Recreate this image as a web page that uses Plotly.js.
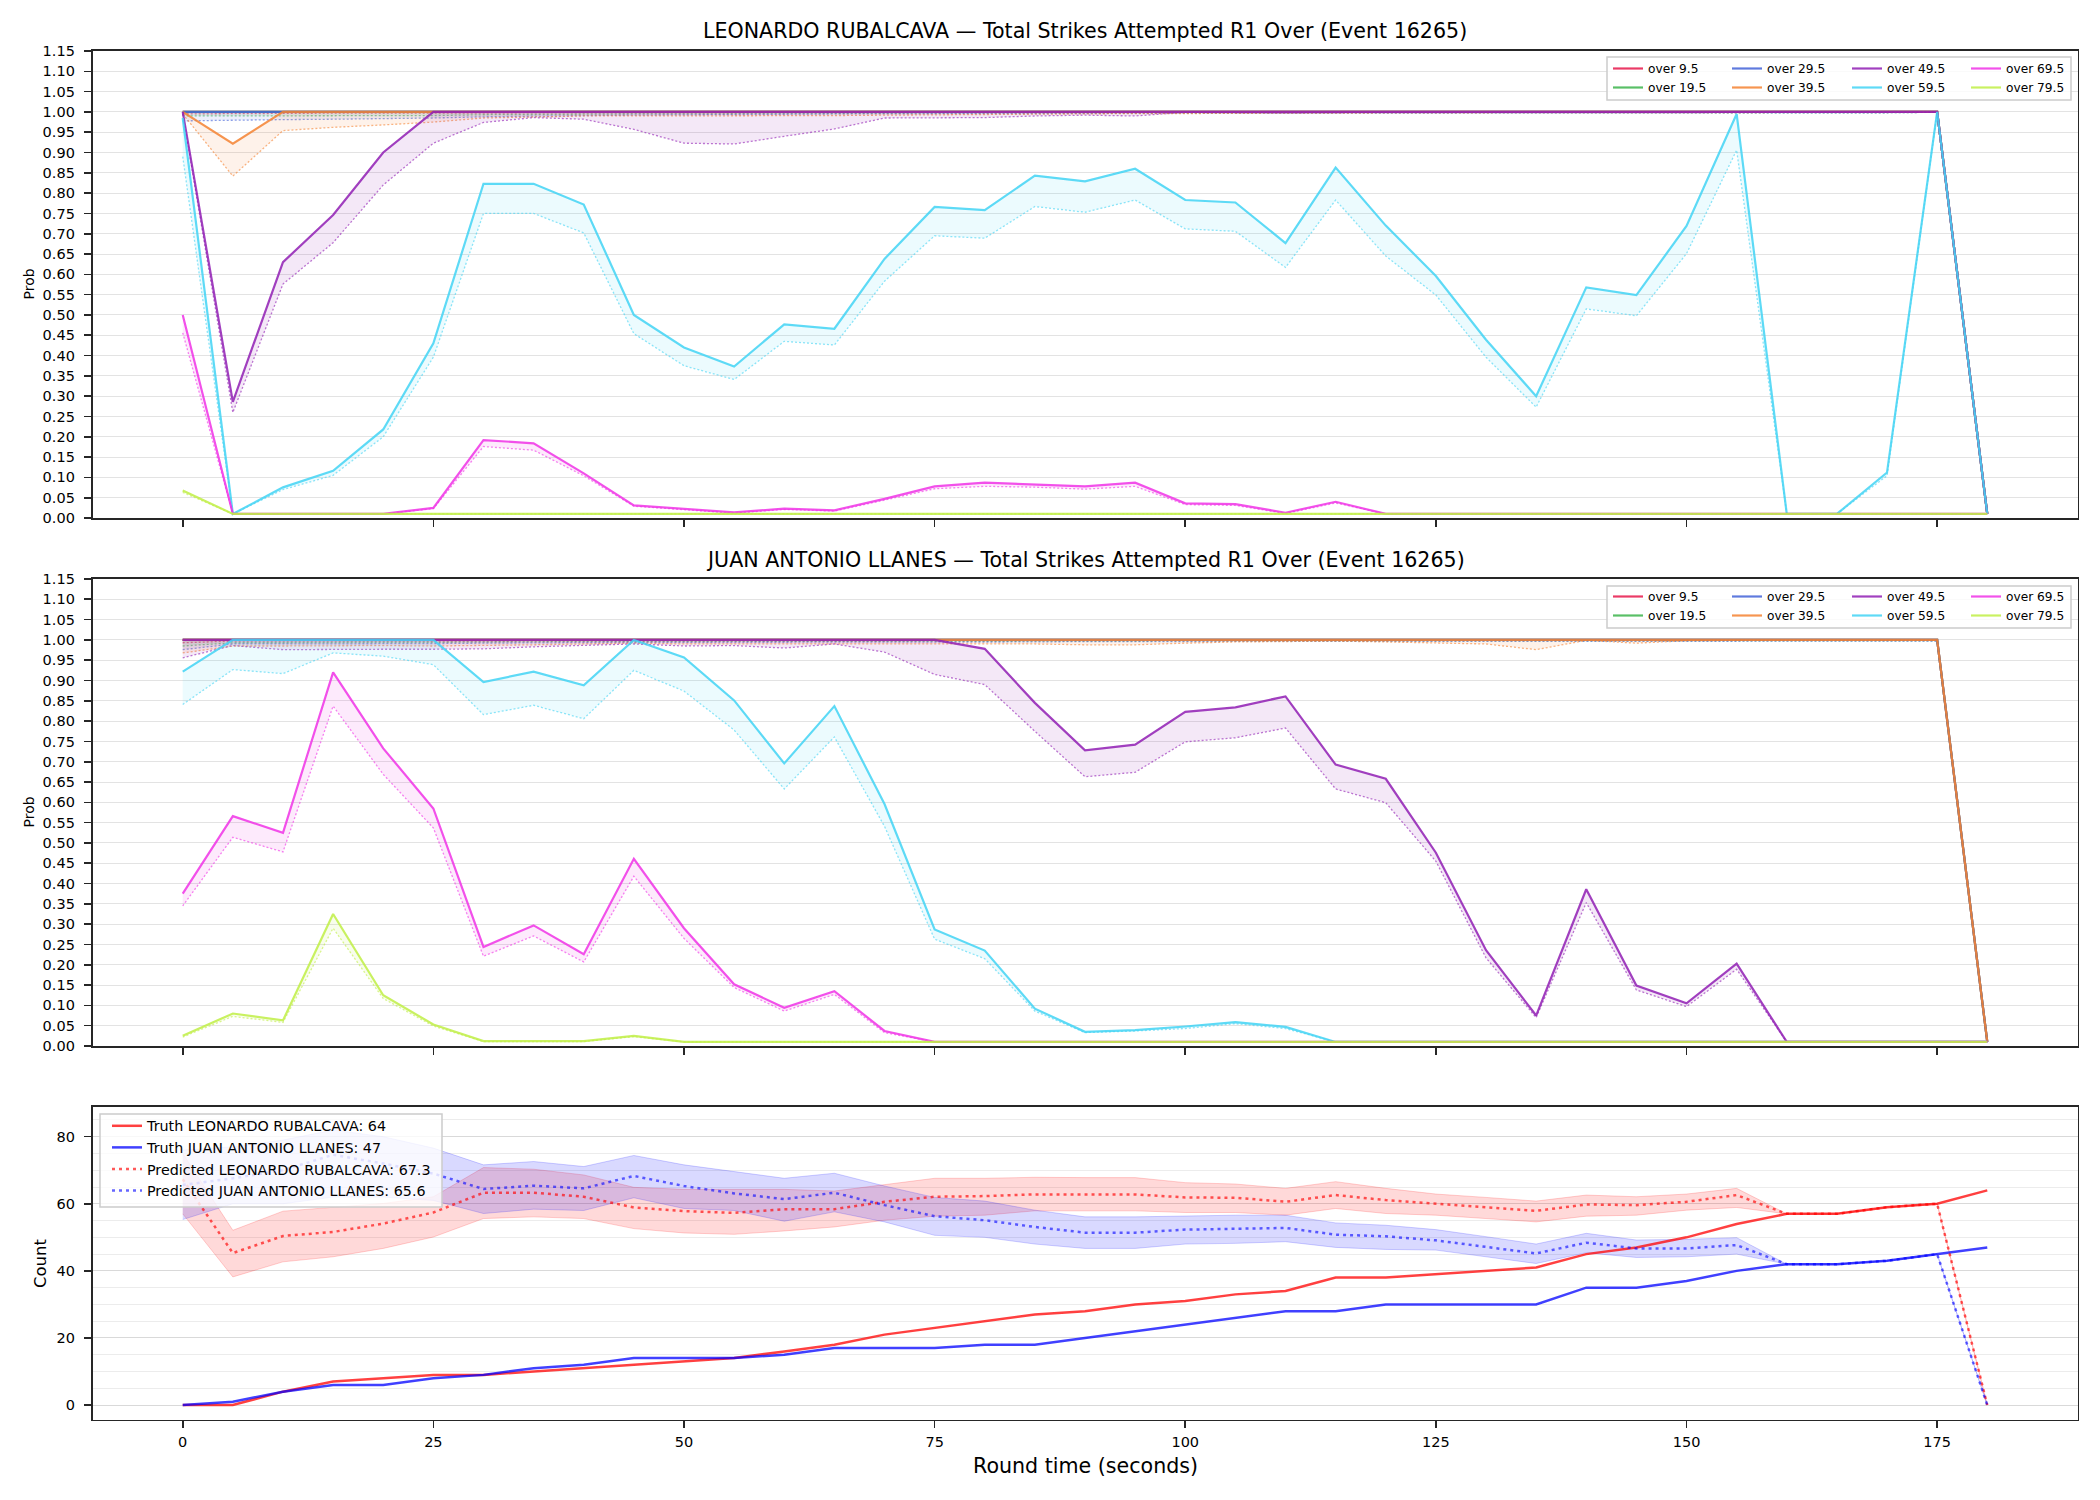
<!DOCTYPE html>
<html>
<head>
<meta charset="utf-8">
<script src="https://cdn.plot.ly/plotly-3.0.1.min.js"></script>
<style>
  html, body { margin: 0; padding: 0; background: #fff; }
  #chart { width: 2100px; height: 1500px; }
</style>
</head>
<body>
<div id="chart"></div>
<script>
// Round time axis (seconds)
const times = [0,5,10,15,20,25, 30,35,40,45,50,55, 60,65,70,75,80,85, 90,95,100,105,110,115, 120,125,130,135,140,145, 150,155,160,165,170,175, 180];
const timeTicks = [0, 25, 50, 75, 100, 125, 150, 175];
const timeTickText = ['0', '25', '50', '75', '100', '125', '150', '175'];

const probTicks = [0,0.05,0.1,0.15,0.2,0.25,0.3,0.35,0.4,0.45,0.5,0.55,0.6,0.65,0.7,0.75,0.8,0.85,0.9,0.95,1,1.05,1.1,1.15];
const probTickText = ['0.00','0.05','0.10','0.15','0.20','0.25','0.30','0.35','0.40','0.45','0.50','0.55','0.60','0.65','0.70','0.75','0.80','0.85','0.90','0.95','1.00','1.05','1.10','1.15'];
const countTicks = [0, 20, 40, 60, 80];

const thresholds = ['over 9.5', 'over 19.5', 'over 29.5', 'over 39.5', 'over 49.5', 'over 59.5', 'over 69.5', 'over 79.5'];

// ---------- LEONARDO RUBALCAVA: upper (solid) and lower (dotted) probabilities ----------
const rubHi_9  = [1,1,1,1,1,1, 1,1,1,1,1,1, 1,1,1,1,1,1, 1,1,1,1,1,1, 1,1,1,1,1,1, 1,1,1,1,1,1, 0.01];
const rubLo_9  = [0.995,0.996,0.996,0.997,0.997,0.997, 0.998,0.998,0.998,0.998,0.998,0.998, 0.999,0.999,0.999,0.999,0.999,0.999, 0.999,0.999,0.999,0.999,0.999,0.999, 0.999,0.999,0.999,0.999,0.999,0.999, 0.999,0.999,0.999,0.999,0.999,0.999, 0.01];
const rubHi_19 = [1,1,1,1,1,1, 1,1,1,1,1,1, 1,1,1,1,1,1, 1,1,1,1,1,1, 1,1,1,1,1,1, 1,1,1,1,1,1, 0.01];
const rubLo_19 = [0.99,0.99,0.99,0.99,0.99,0.991, 0.993,0.994,0.995,0.995,0.995,0.996, 0.996,0.996,0.997,0.997,0.997,0.997, 0.998,0.998,0.998,0.998,0.998,0.998, 0.998,0.998,0.998,0.998,0.998,0.998, 0.998,0.998,0.998,0.998,0.998,0.999, 0.01];
const rubHi_29 = [1,1,1,1,1,1, 1,1,1,1,1,1, 1,1,1,1,1,1, 1,1,1,1,1,1, 1,1,1,1,1,1, 1,1,1,1,1,1, 0.01];
const rubLo_29 = [0.978,0.98,0.981,0.982,0.983,0.985, 0.988,0.99,0.991,0.992,0.993,0.994, 0.994,0.995,0.995,0.996,0.996,0.996, 0.997,0.997,0.997,0.997,0.997,0.997, 0.998,0.998,0.998,0.998,0.998,0.998, 0.998,0.998,0.998,0.998,0.998,0.999, 0.01];
const rubHi_39 = [1,0.922,1,1,1,1, 1,1,1,1,1,1, 1,1,1,1,1,1, 1,1,1,1,1,1, 1,1,1,1,1,1, 1,1,1,1,1,1, 0.01];
const rubLo_39 = [0.995,0.842,0.954,0.962,0.968,0.975, 0.985,0.988,0.99,0.99,0.99,0.99, 0.99,0.991,0.992,0.993,0.994,0.995, 0.995,0.996,0.996,0.997,0.997,0.997, 0.998,0.998,0.998,0.998,0.998,0.998, 0.998,0.998,0.998,0.998,0.998,0.999, 0.01];
const rubHi_49 = [1,0.286,0.63,0.746,0.9,1, 1,1,1,1,1,1, 1,1,1,1,1,1, 1,1,1,1,1,1, 1,1,1,1,1,1, 1,1,1,1,1,1, 0.01];
const rubLo_49 = [0.995,0.26,0.576,0.678,0.82,0.923, 0.974,0.986,0.982,0.957,0.923,0.921, 0.94,0.958,0.985,0.986,0.986,0.99, 0.992,0.99,0.999,0.998,0.997,0.998, 0.998,0.998,0.998,0.998,0.998,0.998, 0.998,0.998,0.998,0.998,0.998,0.999, 0.01];
const rubHi_59 = [0.985,0.01,0.0755,0.116,0.218,0.43, 0.823,0.823,0.772,0.5,0.42,0.373, 0.477,0.466,0.638,0.766,0.758,0.843, 0.829,0.86,0.783,0.777,0.677,0.863, 0.72,0.596,0.439,0.3,0.568,0.549, 0.719,0.995,0.01,0.01,0.112,1, 0.01];
const rubLo_59 = [0.89,0.01,0.07,0.105,0.2,0.396, 0.75,0.75,0.702,0.454,0.375,0.341, 0.435,0.426,0.583,0.695,0.689,0.767, 0.753,0.783,0.712,0.706,0.617,0.783, 0.645,0.549,0.396,0.273,0.515,0.498, 0.651,0.906,0.01,0.01,0.104,0.999, 0.01];
const rubHi_69 = [0.5,0.01,0.01,0.01,0.01,0.025, 0.192,0.184,0.11,0.031,0.023,0.014, 0.023,0.019,0.047,0.078,0.087,0.082, 0.078,0.087,0.036,0.034,0.013,0.04, 0.01,0.01,0.01,0.01,0.01,0.01, 0.01,0.01,0.01,0.01,0.01,0.01, 0.01];
const rubLo_69 = [0.456,0.01,0.01,0.01,0.01,0.023, 0.176,0.167,0.104,0.029,0.021,0.012, 0.021,0.017,0.044,0.072,0.078,0.076, 0.071,0.078,0.033,0.031,0.011,0.037, 0.01,0.01,0.01,0.01,0.01,0.01, 0.01,0.01,0.01,0.01,0.01,0.01, 0.01];
const rubHi_79 = [0.068,0.01,0.01,0.01,0.01,0.01, 0.01,0.01,0.01,0.01,0.01,0.01, 0.01,0.01,0.01,0.01,0.01,0.01, 0.01,0.01,0.01,0.01,0.01,0.01, 0.01,0.01,0.01,0.01,0.01,0.01, 0.01,0.01,0.01,0.01,0.01,0.01, 0.01];
const rubLo_79 = [0.063,0.01,0.01,0.01,0.01,0.01, 0.01,0.01,0.01,0.01,0.01,0.01, 0.01,0.01,0.01,0.01,0.01,0.01, 0.01,0.01,0.01,0.01,0.01,0.01, 0.01,0.01,0.01,0.01,0.01,0.01, 0.01,0.01,0.01,0.01,0.01,0.01, 0.01];

// ---------- JUAN ANTONIO LLANES: upper (solid) and lower (dotted) probabilities ----------
const llaHi_9  = [1,1,1,1,1,1, 1,1,1,1,1,1, 1,1,1,1,1,1, 1,1,1,1,1,1, 1,1,1,1,1,1, 1,1,1,1,1,1, 0.01];
const llaLo_9  = [0.993,0.997,0.997,0.997,0.998,0.998, 0.998,0.998,0.998,0.998,0.998,0.998, 0.998,0.998,0.998,0.999,0.999,0.999, 0.999,0.999,0.999,0.999,0.999,0.999, 0.999,0.999,0.999,0.999,0.999,0.999, 0.999,0.999,0.999,0.999,0.999,0.999, 0.01];
const llaHi_19 = [1,1,1,1,1,1, 1,1,1,1,1,1, 1,1,1,1,1,1, 1,1,1,1,1,1, 1,1,1,1,1,1, 1,1,1,1,1,1, 0.01];
const llaLo_19 = [0.985,0.993,0.993,0.994,0.994,0.994, 0.995,0.995,0.996,0.996,0.996,0.996, 0.996,0.997,0.997,0.997,0.997,0.997, 0.997,0.997,0.998,0.998,0.998,0.998, 0.998,0.998,0.998,0.998,0.998,0.998, 0.998,0.998,0.998,0.998,0.998,0.998, 0.01];
const llaHi_29 = [1,1,1,1,1,1, 1,1,1,1,1,1, 1,1,1,1,1,1, 1,1,1,1,1,1, 1,1,1,1,1,1, 1,1,1,1,1,1, 0.01];
const llaLo_29 = [0.976,0.99,0.99,0.99,0.991,0.991, 0.992,0.993,0.993,0.994,0.994,0.994, 0.994,0.995,0.995,0.995,0.995,0.995, 0.996,0.996,0.996,0.996,0.997,0.997, 0.997,0.997,0.997,0.997,0.997,0.997, 0.997,0.997,0.997,0.997,0.997,0.997, 0.01];
const llaHi_39 = [1,1,1,1,1,1, 1,1,1,1,1,1, 1,1,1,1,1,1, 1,1,1,1,1,1, 1,1,1,1,1,1, 1,1,1,1,1,1, 0.01];
const llaLo_39 = [0.968,0.985,0.985,0.986,0.986,0.985, 0.986,0.988,0.99,0.992,0.99,0.99, 0.99,0.99,0.99,0.99,0.99,0.99, 0.988,0.988,0.992,0.995,0.996,0.997, 0.995,0.993,0.99,0.976,0.999,0.992, 0.998,0.999,0.999,0.999,0.999,0.999, 0.01];
const llaHi_49 = [1,1,1,1,1,1, 1,1,1,1,1,1, 1,1,1,1,0.978,0.845, 0.728,0.742,0.823,0.834,0.861,0.693, 0.658,0.476,0.236,0.075,0.386,0.149, 0.105,0.203,0.01,0.01,0.01,0.01, 0.01];
const llaLo_49 = [0.956,0.986,0.976,0.977,0.977,0.977, 0.978,0.983,0.986,0.99,0.985,0.986, 0.98,0.99,0.97,0.915,0.89,0.775, 0.663,0.674,0.749,0.759,0.783,0.633, 0.599,0.455,0.217,0.07,0.353,0.138, 0.097,0.189,0.01,0.01,0.01,0.01, 0.01];
const llaHi_59 = [0.922,1,1,1,1,1, 0.896,0.922,0.888,1,0.957,0.851, 0.696,0.837,0.596,0.287,0.235,0.092, 0.035,0.039,0.048,0.059,0.047,0.01, 0.01,0.01,0.01,0.01,0.01,0.01, 0.01,0.01,0.01,0.01,0.01,0.01, 0.01];
const llaLo_59 = [0.841,0.927,0.917,0.968,0.96,0.939, 0.816,0.839,0.806,0.925,0.874,0.778, 0.633,0.761,0.541,0.263,0.215,0.086, 0.033,0.037,0.043,0.055,0.043,0.01, 0.01,0.01,0.01,0.01,0.01,0.01, 0.01,0.01,0.01,0.01,0.01,0.01, 0.01];
const llaHi_69 = [0.375,0.566,0.525,0.92,0.733,0.585, 0.244,0.297,0.226,0.461,0.29,0.152, 0.094,0.135,0.037,0.01,0.01,0.01, 0.01,0.01,0.01,0.01,0.01,0.01, 0.01,0.01,0.01,0.01,0.01,0.01, 0.01,0.01,0.01,0.01,0.01,0.01, 0.01];
const llaLo_69 = [0.345,0.514,0.478,0.837,0.669,0.537, 0.221,0.271,0.207,0.418,0.265,0.144, 0.086,0.127,0.033,0.01,0.01,0.01, 0.01,0.01,0.01,0.01,0.01,0.01, 0.01,0.01,0.01,0.01,0.01,0.01, 0.01,0.01,0.01,0.01,0.01,0.01, 0.01];
const llaHi_79 = [0.025,0.08,0.063,0.325,0.125,0.053, 0.012,0.012,0.012,0.025,0.01,0.01, 0.01,0.01,0.01,0.01,0.01,0.01, 0.01,0.01,0.01,0.01,0.01,0.01, 0.01,0.01,0.01,0.01,0.01,0.01, 0.01,0.01,0.01,0.01,0.01,0.01, 0.01];
const llaLo_79 = [0.022,0.073,0.058,0.29,0.117,0.049, 0.011,0.011,0.011,0.023,0.01,0.01, 0.01,0.01,0.01,0.01,0.01,0.01, 0.01,0.01,0.01,0.01,0.01,0.01, 0.01,0.01,0.01,0.01,0.01,0.01, 0.01,0.01,0.01,0.01,0.01,0.01, 0.01];

// ---------- Strike counts: truth and predicted with band ----------
const truthRub = [0,0,4,7,8,9, 9,10,11,12,13,14, 16,18,21,23,25,27, 28,30,31,33,34,38, 38,39,40,41,45,47, 50,54,57,57,59,60, 64];
const truthLla = [0,1,4,6,6,8, 9,11,12,14,14,14, 15,17,17,17,18,18, 20,22,24,26,28,28, 30,30,30,30,35,35, 37,40,42,42,43,45, 47];
const predRub   = [67.3,45.3,50.4,51.6,54.1,57.4, 63.3,63.3,62.1,58.9,57.8,57.3, 58.4,58.4,60.6,62.1,62.3,62.8, 62.8,62.8,61.9,61.8,60.6,62.6, 61.1,60.1,59.1,57.9,59.8,59.6, 60.6,62.6,57,57,59,60, 0];
const predRubHi = [75,52.1,57.8,58.9,60.1,62.1, 70.8,70.3,68.6,64.9,64.3,64.3, 64.3,63.8,65.6,67.6,67.6,67.9, 67.8,67.8,66.3,65.9,64.6,66.6, 64.6,62.9,61.9,60.8,62.6,62.1, 62.9,64.6,57,57,59,60, 0];
const predRubLo = [57,38.2,42.7,44.2,46.7,50.1, 55.6,56.1,55.6,52.6,51.3,50.9, 51.9,53.1,55.1,56.3,56.6,57.9, 57.9,57.9,57.4,57.4,56.6,58.6, 57.1,56.6,55.6,54.6,56.3,56.6, 58.1,58.9,57,57,59,60, 0];
const predLla   = [65.6,67.6,70,74.6,72,69, 64.4,65.4,64.6,68.3,65.3,63.1, 61.4,63.3,59.6,56.3,55.1,53.1, 51.4,51.4,52.3,52.6,52.8,50.8, 50.3,49.1,47.2,45.2,48.4,46.7, 46.7,47.7,42,42,43,45, 0];
const predLlaHi = [76,77,79,82,80,76.6, 71.6,72.6,71.1,74.4,71.6,69.6, 67.6,69.1,65.3,61.9,60.8,58.1, 56.1,56.1,56.4,56.6,56.6,54.3, 53.6,52.3,50.2,48,51.2,49.2, 49.4,49.9,42,42,43,45, 0];
const predLlaLo = [55.3,60,60,62,62,61, 57.1,58.4,58,61.8,58.6,58, 54.8,57.6,54.6,50.6,50,48, 46.7,46.7,48,48.2,48.7,47, 46.4,46.2,44.2,42.2,45.4,44, 44.2,45,42,42,43,45, 0];

// ---------- styling ----------
const FONT = 'DejaVu Sans';
const W = 2100, H = 1500;
const px = v => v / W;        // pixel column -> paper x
const py = v => 1 - v / H;    // pixel row (from top) -> paper y

const lineColors = ['#e6194b', '#3cb44b', '#4363d8', '#f58231', '#911eb4', '#42d4f4', '#f032e6', '#bfef45'];
function rgba(hex, a) {
  const n = parseInt(hex.slice(1), 16);
  return 'rgba(' + ((n >> 16) & 255) + ',' + ((n >> 8) & 255) + ',' + (n & 255) + ',' + a + ')';
}

const panels = [
  { hi: [rubHi_9, rubHi_19, rubHi_29, rubHi_39, rubHi_49, rubHi_59, rubHi_69, rubHi_79],
    lo: [rubLo_9, rubLo_19, rubLo_29, rubLo_39, rubLo_49, rubLo_59, rubLo_69, rubLo_79],
    xa: 'x', ya: 'y', legends: ['legend', 'legend2', 'legend3', 'legend4'] },
  { hi: [llaHi_9, llaHi_19, llaHi_29, llaHi_39, llaHi_49, llaHi_59, llaHi_69, llaHi_79],
    lo: [llaLo_9, llaLo_19, llaLo_29, llaLo_39, llaLo_49, llaLo_59, llaLo_69, llaLo_79],
    xa: 'x2', ya: 'y2', legends: ['legend5', 'legend6', 'legend7', 'legend8'] }
];

const traces = [];
panels.forEach(p => {
  thresholds.forEach((name, k) => {
    const col = Math.floor(k / 2);
    traces.push({
      type: 'scatter', mode: 'lines', x: times, y: p.hi[k], xaxis: p.xa, yaxis: p.ya,
      name: name, legend: p.legends[col], hoverinfo: 'skip',
      line: { color: rgba(lineColors[k], 0.85), width: 2.2 }
    });
    traces.push({
      type: 'scatter', mode: 'lines', x: times, y: p.lo[k], xaxis: p.xa, yaxis: p.ya,
      legend: p.legends[col], showlegend: false, hoverinfo: 'skip',
      fill: 'tonexty', fillcolor: rgba(lineColors[k], 0.1),
      line: { color: rgba(lineColors[k], 0.6), width: 1.3, dash: '2px,2px' }
    });
  });
});

// predicted bands for the count panel
function band(hi, lo, r, g, b) {
  traces.push({ type: 'scatter', mode: 'lines', x: times, y: hi, xaxis: 'x3', yaxis: 'y3',
    legend: 'legend9', showlegend: false, hoverinfo: 'skip',
    line: { color: `rgba(${r},${g},${b},0.18)`, width: 1 } });
  traces.push({ type: 'scatter', mode: 'lines', x: times, y: lo, xaxis: 'x3', yaxis: 'y3',
    legend: 'legend9', showlegend: false, hoverinfo: 'skip',
    fill: 'tonexty', fillcolor: `rgba(${r},${g},${b},0.15)`,
    line: { color: `rgba(${r},${g},${b},0.18)`, width: 1 } });
}
band(predRubHi, predRubLo, 255, 0, 0);
band(predLlaHi, predLlaLo, 0, 0, 255);

traces.push({ type: 'scatter', mode: 'lines', x: times, y: truthRub, xaxis: 'x3', yaxis: 'y3',
  name: 'Truth LEONARDO RUBALCAVA: 64', legend: 'legend9', hoverinfo: 'skip',
  line: { color: 'rgba(255,0,0,0.75)', width: 2.5 } });
traces.push({ type: 'scatter', mode: 'lines', x: times, y: truthLla, xaxis: 'x3', yaxis: 'y3',
  name: 'Truth JUAN ANTONIO LLANES: 47', legend: 'legend9', hoverinfo: 'skip',
  line: { color: 'rgba(0,0,255,0.75)', width: 2.5 } });
traces.push({ type: 'scatter', mode: 'lines', x: times, y: predRub, xaxis: 'x3', yaxis: 'y3',
  name: 'Predicted LEONARDO RUBALCAVA: 67.3', legend: 'legend9', hoverinfo: 'skip',
  line: { color: 'rgba(255,0,0,0.65)', width: 2.5, dash: '3px,4px' } });
traces.push({ type: 'scatter', mode: 'lines', x: times, y: predLla, xaxis: 'x3', yaxis: 'y3',
  name: 'Predicted JUAN ANTONIO LLANES: 65.6', legend: 'legend9', hoverinfo: 'skip',
  line: { color: 'rgba(0,0,255,0.6)', width: 2.5, dash: '3px,4px' } });

// ---------- axes ----------
const SPINE = '#262626';
const xDomain = [px(92.5), px(2077.5)];
function timeAxis(anchor, showLabels) {
  return {
    domain: xDomain, anchor: anchor, range: [-9, 189],
    tickmode: 'array', tickvals: timeTicks, ticktext: timeTickText, showticklabels: showLabels,
    ticks: 'outside', ticklen: 7, tickwidth: 1.6, tickcolor: SPINE, ticklabelstandoff: 1,
    tickfont: { family: FONT, size: 14.5, color: '#000' },
    showgrid: false, zeroline: false, showline: true, mirror: true, linecolor: SPINE, linewidth: 1.7,
    automargin: false, fixedrange: true
  };
}
function probAxis(anchor, top, bottom) {
  return {
    domain: [py(bottom), py(top)], anchor: anchor, range: [0, 1.15],
    tickmode: 'array', tickvals: probTicks, ticktext: probTickText,
    ticks: 'outside', ticklen: 7, tickwidth: 1.6, tickcolor: SPINE, ticklabelstandoff: 6,
    tickfont: { family: FONT, size: 14.5, color: '#000' },
    showgrid: true, gridcolor: '#e3e3e3', gridwidth: 1, zeroline: false,
    showline: true, mirror: true, linecolor: SPINE, linewidth: 1.7, automargin: false, fixedrange: true
  };
}

function legendAt(xPix, yPix, size) {
  return {
    x: px(xPix), y: py(yPix), xanchor: 'left', yanchor: 'top', orientation: 'v',
    traceorder: 'normal', bgcolor: 'rgba(0,0,0,0)', borderwidth: 0, tracegroupgap: 0,
    font: { family: FONT, size: size, color: '#000' }, itemclick: false, itemdoubleclick: false
  };
}

function box(x0, y0, x1, y1) {
  return { type: 'rect', xref: 'paper', yref: 'paper', layer: 'above',
    x0: px(x0), x1: px(x1), y0: py(y1), y1: py(y0),
    fillcolor: 'rgba(255,255,255,0.8)', line: { color: '#cccccc', width: 1.5 } };
}

function label(text, xPix, yPix, size, angle) {
  return { text: text, xref: 'paper', yref: 'paper', x: px(xPix), y: py(yPix),
    xanchor: 'center', yanchor: 'middle', showarrow: false, textangle: angle || 0,
    font: { family: FONT, size: size, color: '#000' } };
}

const legendCols = [1608, 1727, 1847, 1966];

const layout = {
  width: W, height: H, autosize: false,
  margin: { l: 0, r: 0, t: 0, b: 0, pad: 0 },
  paper_bgcolor: '#fff', plot_bgcolor: '#fff',
  font: { family: FONT, color: '#000' },
  xaxis: timeAxis('y', false),
  xaxis2: timeAxis('y2', false),
  xaxis3: timeAxis('y3', true),
  yaxis: probAxis('x', 51, 518),
  yaxis2: probAxis('x2', 579, 1046),
  yaxis3: {
    domain: [py(1419.5), py(1106.5)], anchor: 'x3', range: [-4.3, 89],
    tickmode: 'array', tickvals: countTicks,
    ticks: 'outside', ticklen: 7, tickwidth: 1.6, tickcolor: SPINE, ticklabelstandoff: 6,
    tickfont: { family: FONT, size: 14.5, color: '#000' },
    showgrid: true, gridcolor: '#d9d9d9', gridwidth: 1, zeroline: false,
    minor: { tickmode: 'linear', tick0: 0, dtick: 5, showgrid: true, gridcolor: '#ececec', gridwidth: 1, ticks: '' },
    showline: true, mirror: true, linecolor: SPINE, linewidth: 1.7, automargin: false, fixedrange: true
  },
  legend:  legendAt(legendCols[0], 54, 12.2),
  legend2: legendAt(legendCols[1], 54, 12.2),
  legend3: legendAt(legendCols[2], 54, 12.2),
  legend4: legendAt(legendCols[3], 54, 12.2),
  legend5: legendAt(legendCols[0], 582, 12.2),
  legend6: legendAt(legendCols[1], 582, 12.2),
  legend7: legendAt(legendCols[2], 582, 12.2),
  legend8: legendAt(legendCols[3], 582, 12.2),
  legend9: legendAt(107, 1110, 14.3),
  shapes: [
    box(1607, 57, 2071, 100),
    box(1607, 586, 2071, 628),
    box(100, 1114, 442, 1207)
  ],
  annotations: [
    label('LEONARDO RUBALCAVA — Total Strikes Attempted R1 Over (Event 16265)', 1085, 31, 20.6),
    label('JUAN ANTONIO LLANES — Total Strikes Attempted R1 Over (Event 16265)', 1085, 560, 20.6),
    label('Prob', 28, 284.5, 14, -90),
    label('Prob', 28, 812.5, 14, -90),
    label('Count', 40, 1263, 16.5, -90),
    label('Round time (seconds)', 1085, 1466, 20.6)
  ]
};

Plotly.newPlot('chart', traces, layout, { displayModeBar: false, staticPlot: true });
</script>
</body>
</html>
